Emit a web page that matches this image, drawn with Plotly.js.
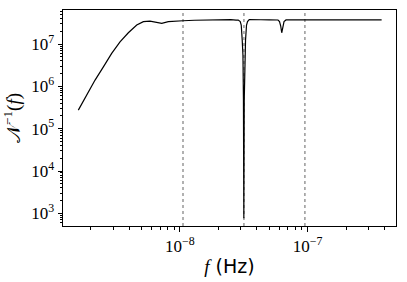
<!DOCTYPE html>
<html>
<head>
<meta charset="utf-8">
<script src="https://cdn.plot.ly/plotly-3.0.1.min.js"></script>
<style>html,body{margin:0;padding:0;background:#fff;}#chart{width:407px;height:282px;}</style>
</head>
<body>
<div id="chart"></div>
<script>
const freq = [1.603e-9, 1.866e-9, 2.167e-9, 2.518e-9, 2.924e-9, 3.398e-9, 3.948e-9, 4.592e-9, 5.176e-9, 5.834e-9,
  6.776e-9, 7.211e-9, 8.110e-9, 9.2e-9, 1.057e-8, 1.3e-8, 1.72e-8, 2.2e-8, 2.5e-8, 2.748e-8,
  2.86e-8, 2.965e-8, 3.019e-8, 3.073e-8, 3.113e-8, 3.141e-8, 3.164e-8, 3.187e-8, 3.221e-8, 3.262e-8,
  3.321e-8, 3.382e-8, 3.487e-8, 3.8e-8, 4.3e-8, 5e-8, 5.5e-8, 5.857e-8, 6.018e-8, 6.15e-8,
  6.262e-8, 6.375e-8, 6.526e-8, 6.765e-8, 7.5e-8, 1e-7, 1.5e-7, 2.2e-7, 3e-7, 3.79e-7];
const invNoise = [2.74e5, 6.21e5, 1.41e6, 2.90e6, 6.03e6, 1.13e7, 1.85e7, 2.82e7, 3.38e7, 3.50e7,
  3.19e7, 3.09e7, 3.38e7, 3.5e7, 3.56e7, 3.65e7, 3.76e7, 3.72e7, 3.78e7, 3.66e7,
  3.70e7, 3.41e7, 2.82e7, 1.24e7, 5.5e6, 4.7e5, 7.6e2, 4.7e5, 5.5e6, 1.24e7,
  2.82e7, 3.41e7, 3.78e7, 3.72e7, 3.75e7, 3.72e7, 3.74e7, 3.70e7, 3.41e7, 2.67e7,
  1.85e7, 2.67e7, 3.41e7, 3.72e7, 3.72e7, 3.72e7, 3.72e7, 3.72e7, 3.72e7, 3.72e7];
const vlineFreqs = [1.057e-8, 3.169e-8, 9.51e-8];
const xTickVals = [1e-8, 1e-7];
const xTickText = ['10<sup>−8</sup>', '10<sup>−7</sup>'];
const yTickVals = [1e3, 1e4, 1e5, 1e6, 1e7];
const yTickText = ['10<sup>3</sup>', '10<sup>4</sup>', '10<sup>5</sup>', '10<sup>6</sup>', '10<sup>7</sup>'];

const xRange = [-8.915, -6.309];
const yRange = [2.70, 7.805];

const traces = [];
vlineFreqs.forEach(f => {
  traces.push({
    x: [f, f], y: [Math.pow(10, yRange[0]), Math.pow(10, yRange[1])],
    mode: 'lines', line: {color: '#888888', width: 1.3, dash: 'dot'},
    hoverinfo: 'skip', showlegend: false
  });
});
traces.push({
  x: freq, y: invNoise, mode: 'lines',
  line: {color: '#000000', width: 1.2}, showlegend: false
});

const serif = '"Liberation Serif", "DejaVu Serif", serif';
const layout = {
  width: 407, height: 282,
  margin: {l: 63, r: 11, t: 10, b: 56},
  paper_bgcolor: '#fff', plot_bgcolor: '#fff',
  showlegend: false,
  xaxis: {
    type: 'log', range: xRange,
    tickvals: xTickVals, ticktext: xTickText,
    ticks: 'outside', ticklen: 4.5, tickwidth: 1, tickcolor: '#000',
    minor: {ticks: 'outside', ticklen: 2.5, tickcolor: '#000', dtick: 'D1', showgrid: false},
    showgrid: false, zeroline: false,
    showline: true, linecolor: '#000', linewidth: 1, mirror: true,
    tickfont: {family: serif, size: 17, color: '#000'},
    title: {text: '<i>f</i><span style="font-family:DejaVu Sans"> (Hz)</span>',
      font: {family: serif, size: 19, color: '#000'}, standoff: 4}
  },
  yaxis: {
    type: 'log', range: yRange,
    tickvals: yTickVals, ticktext: yTickText,
    ticks: 'outside', ticklen: 4.5, tickwidth: 1, tickcolor: '#000',
    minor: {ticks: 'outside', ticklen: 2.5, tickcolor: '#000', dtick: 'D1', showgrid: false},
    showgrid: false, zeroline: false,
    showline: true, linecolor: '#000', linewidth: 1, mirror: true,
    tickfont: {family: serif, size: 17, color: '#000'},
    title: {text: '𝒩<sup>−1</sup>(<i>f</i>)',
      font: {family: serif, size: 19, color: '#000'}, standoff: 6}
  }
};
Plotly.newPlot('chart', traces, layout, {staticPlot: true, displayModeBar: false});
</script>
</body>
</html>
